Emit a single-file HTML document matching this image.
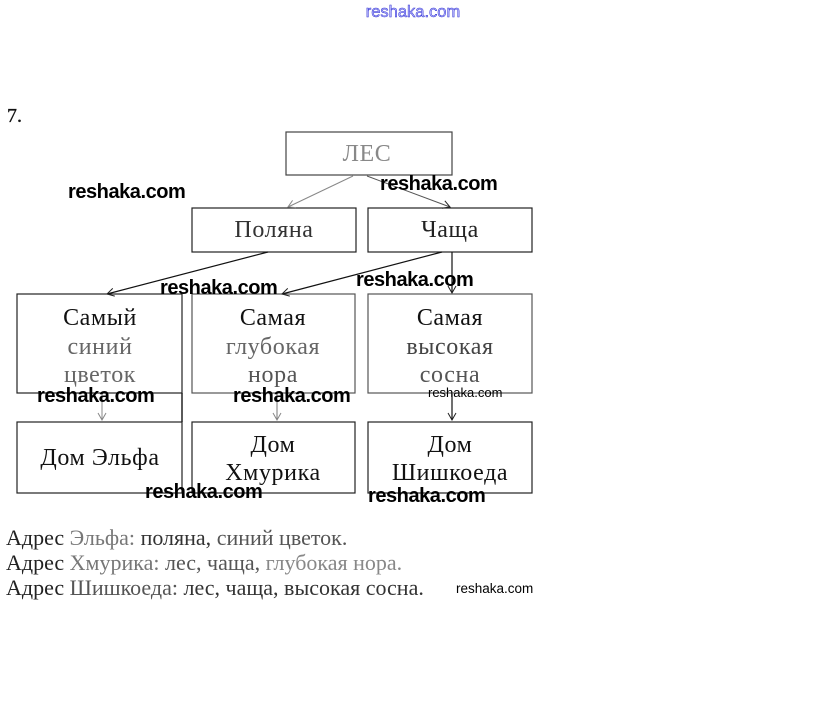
<!DOCTYPE html>
<html>
<head>
<meta charset="utf-8">
<style>
html,body{margin:0;padding:0;background:#fff;}
svg{display:block;}
.serif{font-family:"Liberation Serif","Noto Serif CJK SC",serif;}
.wm{font-family:"Liberation Sans","DejaVu Sans",sans-serif;font-weight:bold;fill:#000;}
.wms{font-family:"Liberation Sans","DejaVu Sans",sans-serif;fill:#000;}
</style>
</head>
<body>
<svg width="823" height="704" viewBox="0 0 823 704" xmlns="http://www.w3.org/2000/svg">
<defs>
<marker id="ah" markerWidth="10" markerHeight="10" refX="8" refY="5" orient="auto" markerUnits="userSpaceOnUse">
<path d="M1,1 L8,5 L1,9" fill="none" stroke="#222" stroke-width="1"/>
</marker>
<marker id="ahg" markerWidth="10" markerHeight="10" refX="8" refY="5" orient="auto" markerUnits="userSpaceOnUse">
<path d="M1,1 L8,5 L1,9" fill="none" stroke="#888" stroke-width="1"/>
</marker>
</defs>

<!-- top watermark -->
<text x="413" y="17" text-anchor="middle" font-family="Liberation Sans, sans-serif" font-size="16.5" fill="#b8b8ff" stroke="#3030d0" stroke-width="0.5">reshaka.com</text>

<!-- 7. -->
<text x="7" y="122" class="serif" font-size="20" fill="#111" stroke="#111" stroke-width="0.3">7.</text>

<!-- Boxes -->
<g fill="none" stroke="#222" stroke-width="1.2">
<rect x="286" y="132" width="166" height="43" stroke="#444"/>
<rect x="192" y="208" width="164" height="44"/>
<rect x="368" y="208" width="164" height="44"/>
<rect x="17" y="294" width="165" height="99"/>
<rect x="192" y="294" width="163" height="99" stroke="#555"/>
<rect x="368" y="294" width="164" height="99" stroke="#555"/>
<rect x="17" y="422" width="165" height="71"/>
<rect x="192" y="422" width="163" height="71"/>
<rect x="368" y="422" width="164" height="71"/>
</g>
<line x1="182" y1="393" x2="182" y2="422" stroke="#222" stroke-width="1.5"/>

<!-- Connectors -->
<line x1="353" y1="176" x2="288" y2="207" stroke="#888" stroke-width="1" marker-end="url(#ahg)"/>
<line x1="367" y1="176" x2="450" y2="207" stroke="#555" stroke-width="1" marker-end="url(#ah)"/>
<line x1="268" y1="252" x2="107" y2="294" stroke="#111" stroke-width="1.2" marker-end="url(#ah)"/>
<line x1="442" y1="252" x2="282" y2="294" stroke="#111" stroke-width="1.2" marker-end="url(#ah)"/>
<line x1="452" y1="252" x2="452" y2="293" stroke="#111" stroke-width="1.2" marker-end="url(#ah)"/>
<line x1="102" y1="394" x2="102" y2="420" stroke="#888" stroke-width="1" marker-end="url(#ahg)"/>
<line x1="277" y1="394" x2="277" y2="420" stroke="#777" stroke-width="1" marker-end="url(#ahg)"/>
<line x1="452" y1="394" x2="452" y2="420" stroke="#111" stroke-width="1.2" marker-end="url(#ah)"/>

<!-- Box labels -->
<g class="serif" text-anchor="middle" font-size="24" letter-spacing="0.6">
<text x="367" y="161" fill="#888">ЛЕС</text>
<text x="274" y="237" fill="#333">Поляна</text>
<text x="450" y="237" fill="#222">Чаща</text>

<text x="100" y="325" fill="#111">Самый</text>
<text x="100" y="354" fill="#666">синий</text>
<text x="100" y="382" fill="#666">цветок</text>

<text x="273" y="325" fill="#111">Самая</text>
<text x="273" y="354" fill="#666">глубокая</text>
<text x="273" y="382" fill="#555">нора</text>

<text x="450" y="325" fill="#111">Самая</text>
<text x="450" y="354" fill="#444">высокая</text>
<text x="450" y="382" fill="#555">сосна</text>

<text x="100" y="465" fill="#111">Дом Эльфа</text>
<text x="273" y="452" fill="#111">Дом</text>
<text x="273" y="480" fill="#111">Хмурика</text>
<text x="450" y="452" fill="#111">Дом</text>
<text x="450" y="480" fill="#111">Шишкоеда</text>
</g>

<!-- Address lines -->
<g class="serif" font-size="22">
<text x="6" y="545" fill="#333"><tspan fill="#222">Адрес </tspan><tspan fill="#777">Эльфа: </tspan><tspan fill="#333">поляна, </tspan><tspan fill="#555">синий цветок.</tspan></text>
<text x="6" y="570" fill="#444"><tspan fill="#222">Адрес </tspan><tspan fill="#777">Хмурика: </tspan><tspan fill="#555">лес, чаща, </tspan><tspan fill="#888">глубокая нора.</tspan></text>
<text x="6" y="595" fill="#333"><tspan fill="#222">Адрес </tspan><tspan fill="#555">Шишкоеда: </tspan><tspan fill="#333">лес, чаща, высокая сосна.</tspan></text>
</g>

<!-- Watermarks -->
<g class="wm" font-size="20" letter-spacing="-0.45">
<text x="68" y="198">reshaka.com</text>
<text x="380" y="190">reshaka.com</text>
<text x="160" y="294">reshaka.com</text>
<text x="356" y="286">reshaka.com</text>
<text x="37" y="402">reshaka.com</text>
<text x="233" y="402">reshaka.com</text>
<text x="145" y="498">reshaka.com</text>
<text x="368" y="502">reshaka.com</text>
</g>
<text x="428" y="397" class="wms" font-size="13">reshaka.com</text>
<text x="456" y="593" class="wms" font-size="13.5">reshaka.com</text>
</svg>
</body>
</html>
